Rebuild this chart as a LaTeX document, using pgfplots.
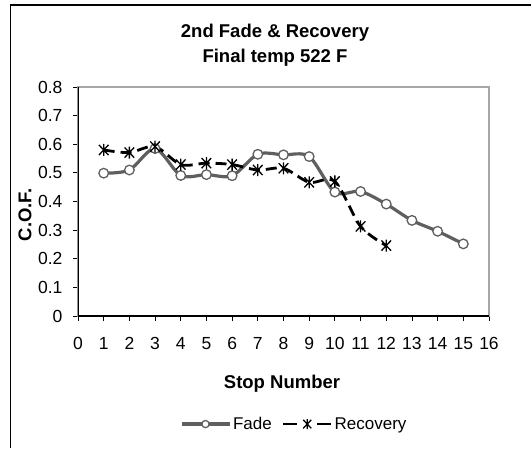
\documentclass[border=0pt]{standalone}
\usepackage{pgfplots}
\pgfplotsset{compat=1.18}
\usepackage{fontspec}
\setmainfont{Liberation Sans}
\pgfdeclareplotmark{xstar}{%
  \pgfpathmoveto{\pgfqpoint{-0.8\pgfplotmarksize}{-0.85\pgfplotmarksize}}%
  \pgfpathlineto{\pgfqpoint{0.8\pgfplotmarksize}{0.85\pgfplotmarksize}}%
  \pgfpathmoveto{\pgfqpoint{-0.8\pgfplotmarksize}{0.85\pgfplotmarksize}}%
  \pgfpathlineto{\pgfqpoint{0.8\pgfplotmarksize}{-0.85\pgfplotmarksize}}%
  \pgfpathmoveto{\pgfqpoint{0pt}{-\pgfplotmarksize}}%
  \pgfpathlineto{\pgfqpoint{0pt}{\pgfplotmarksize}}%
  \pgfusepathqstroke}
\definecolor{fadegray}{HTML}{5F5F5F}
\pgfplotsset{
  fadeleg/.style={legend image code/.code={\draw[##1, mark=none] (0pt,0pt)--(48pt,0pt);
     \draw[##1, mark size=3.6pt] plot coordinates {(24pt,0pt)};}},
  recleg/.style={legend image code/.code={\draw[##1, mark=none, dash pattern=on 14pt off 20pt] (0pt,0pt)--(48pt,0pt);
     \draw[##1, mark size=5pt] plot coordinates {(24pt,0pt)};}},
}
\begin{document}
\begin{tikzpicture}
\path[use as bounding box] (0pt,0pt) rectangle (531pt,448pt);
\draw[line width=1.2pt] (10.5pt,0pt) -- (10.5pt,443pt) -- (531pt,443pt);
\node[font=\bfseries\fontsize{18.5}{25}\selectfont, align=center] at (275pt,403pt) {2nd Fade \& Recovery\\Final temp 522 F};
\node[font=\bfseries\fontsize{18.5}{20}\selectfont, rotate=90] at (25pt,233pt) {C.O.F.};
\node[font=\bfseries\fontsize{18.5}{20}\selectfont] at (282pt,64pt) {Stop Number};
\begin{axis}[
  at={(78pt,132pt)}, anchor=south west,
  scale only axis, width=411pt, height=229pt,
  xmin=0, xmax=16, ymin=0, ymax=0.8,
  xtick={0,1,...,16}, ytick={0,0.1,0.2,0.3,0.4,0.5,0.6,0.7,0.8},
  yticklabels={0,0.1,0.2,0.3,0.4,0.5,0.6,0.7,0.8},
  /pgf/number format/assume math mode=true,
  ticklabel style={font=\fontsize{17.5}{20}\selectfont},
  xtick pos=bottom, ytick pos=left,
  tick align=outside, major tick length=5pt,
  tick style={black, line width=0.8pt},
  axis line style={draw=gray!70, line width=1.2pt},
  xticklabel style={yshift=-13pt},
  yticklabel style={xshift=-7pt},
  legend columns=2,
  legend style={draw=none, fill=none, at={(0.526,-0.472)}, anchor=center,
    font=\fontsize{17}{20}\selectfont, /tikz/every even column/.style={column sep=8pt},
    inner sep=0pt},
  legend cell align=left,
]
\addplot[fadegray, line width=3.2pt, smooth, tension=0.5,
  mark=*, mark size=4.8pt, mark options={fill=white, draw=fadegray, line width=1.3pt}, fadeleg]
coordinates {(1,0.499) (2,0.510) (3,0.585) (4,0.491) (5,0.494) (6,0.490) (7,0.565) (8,0.563) (9,0.557) (10,0.433) (11,0.435) (12,0.391) (13,0.334) (14,0.296) (15,0.252)};
\addlegendentry{Fade}
\addplot[black, line width=2.8pt, smooth, tension=0.5, dash pattern=on 11pt off 6pt,
  mark=xstar, mark size=6pt, mark options={solid, line width=1.3pt}, recleg]
coordinates {(1,0.580) (2,0.571) (3,0.592) (4,0.529) (5,0.534) (6,0.529) (7,0.510) (8,0.516) (9,0.467) (10,0.470) (11,0.313) (12,0.246)};
\addlegendentry{Recovery}
\draw[black, line width=1.2pt] (rel axis cs:0,1) -- (rel axis cs:0,0) -- (rel axis cs:1,0);
\end{axis}
\end{tikzpicture}
\end{document}
